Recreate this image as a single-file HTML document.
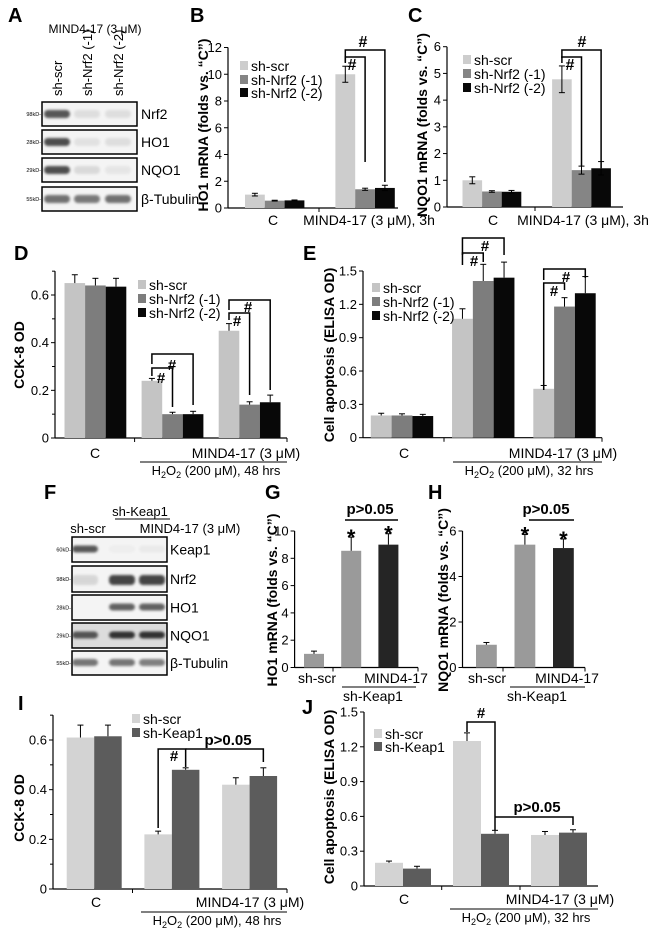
<!DOCTYPE html>
<html><head><meta charset="utf-8"><style>
html,body{margin:0;padding:0;background:#fff}
svg{display:block;font-family:"Liberation Sans",sans-serif}
</style></head><body>
<svg id="fig" width="650" height="938" viewBox="0 0 650 938" xmlns="http://www.w3.org/2000/svg">
<defs><filter id="blur" x="-20%" y="-60%" width="140%" height="220%"><feGaussianBlur stdDeviation="1.4"/></filter></defs>
<g id="root"></g>
</svg>
<script>
// ===== data arrays =====
const B_cats = ["C", "MIND4-17 (3 μM), 3h"];
const B_series = ["sh-scr", "sh-Nrf2 (-1)", "sh-Nrf2 (-2)"];
const B_scr = [1.0, 10.0];
const B_n1 = [0.55, 1.4];
const B_n2 = [0.57, 1.5];
const B_scrErr = [0.1, 0.6];
const B_n1Err = [0.03, 0.08];
const B_n2Err = [0.03, 0.2];
const B_ticks = [0, 2, 4, 6, 8, 10, 12];

const C_scr = [1.0, 4.78];
const C_n1 = [0.58, 1.38];
const C_n2 = [0.57, 1.45];
const C_scrErr = [0.13, 0.5];
const C_n1Err = [0.03, 0.15];
const C_n2Err = [0.05, 0.25];
const C_ticks = [0, 1, 2, 3, 4, 5, 6];

const D_scr = [0.65, 0.24, 0.45];
const D_n1 = [0.64, 0.10, 0.14];
const D_n2 = [0.635, 0.10, 0.15];
const D_scrErr = [0.035, 0.01, 0.03];
const D_n1Err = [0.03, 0.008, 0.012];
const D_n2Err = [0.035, 0.012, 0.03];
const D_ticks = [0, 0.2, 0.4, 0.6];
const D_tickLabels = ["0", "0.2", "0.4", "0.6"];

const E_scr = [0.2, 1.07, 0.44];
const E_n1 = [0.2, 1.41, 1.18];
const E_n2 = [0.195, 1.44, 1.30];
const E_scrErr = [0.02, 0.09, 0.03];
const E_n1Err = [0.015, 0.15, 0.08];
const E_n2Err = [0.015, 0.14, 0.15];
const E_ticks = [0, 0.3, 0.6, 0.9, 1.2, 1.5];
const E_tickLabels = ["0", "0.3", "0.6", "0.9", "1.2", "1.5"];

const G_cats = ["sh-scr", "sh-Keap1", "sh-Keap1 + MIND4-17"];
const G_vals = [1.0, 8.55, 9.0];
const G_errs = [0.2, 1.0, 0.8];
const G_ticks = [0, 2, 4, 6, 8, 10];

const H_vals = [1.0, 5.4, 5.25];
const H_errs = [0.1, 0.45, 0.4];
const H_ticks = [0, 2, 4, 6];

const I_scr = [0.61, 0.22, 0.42];
const I_keap = [0.615, 0.48, 0.455];
const I_scrErr = [0.05, 0.013, 0.028];
const I_keapErr = [0.045, 0.008, 0.033];
const I_ticks = [0, 0.2, 0.4, 0.6];
const I_tickLabels = ["0", "0.2", "0.4", "0.6"];

const J_scr = [0.2, 1.25, 0.44];
const J_keap = [0.15, 0.45, 0.46];
const J_scrErr = [0.015, 0.07, 0.03];
const J_keapErr = [0.02, 0.03, 0.025];
const J_ticks = [0, 0.3, 0.6, 0.9, 1.2, 1.5];
const J_tickLabels = ["0", "0.3", "0.6", "0.9", "1.2", "1.5"];

// ===== helpers =====
const NS = "http://www.w3.org/2000/svg";
const svg = document.getElementById("root");
function mk(tag, attrs, parent) {
  const e = document.createElementNS(NS, tag);
  for (const k in attrs) e.setAttribute(k, attrs[k]);
  (parent || svg).appendChild(e);
  return e;
}
function txt(s, x, y, size, opts, parent) {
  opts = opts || {};
  const t = mk("text", {x: x, y: y, "font-size": size, "text-anchor": opts.anchor || "start", fill: "#000"}, parent);
  if (opts.bold) t.setAttribute("font-weight", "bold");
  if (opts.rot) t.setAttribute("transform", "rotate(-90 " + x + " " + y + ")");
  t.textContent = s;
  return t;
}
function line(x1, y1, x2, y2, w, parent) {
  return mk("line", {x1: x1, y1: y1, x2: x2, y2: y2, stroke: "#000", "stroke-width": w || 1}, parent);
}
function makeY(y0, yRef, vRef) { return v => y0 - v * (y0 - yRef) / vRef; }

function yAxis(g, ax, y, ticks, labels, topV, minor) {
  const ya = line(ax, y(0), ax, y(topV), 1.2, g);
  
  
  ticks.forEach((t, i) => {
    line(ax - 4, y(t), ax, y(t), 1, g);
    const l = txt(labels ? labels[i] : String(t), ax - 6, y(t) + 4.5, 13, {anchor: "end"}, g);
    
    
  });
  if (minor) for (let i = 0; i < ticks.length - 1; i++) {
    const m = (ticks[i] + ticks[i + 1]) / 2; line(ax - 3, y(m), ax, y(m), 1, g);
  }
  if (minor && topV > ticks[ticks.length - 1]) line(ax - 3, y(topV), ax, y(topV), 1, g);
}
function xAxis(g, ax, x2, y0, tickXs) {
  const xa = line(ax, y0, x2, y0, 1.2, g);
  
  
  tickXs.forEach(tx => line(tx, y0, tx, y0 + 4, 1, g));
}
function bar(g, x, w, v, err, y, color, name, both) {
  const r = mk("rect", {x: x, y: y(v), width: w, height: y(0) - y(v), fill: color}, g);
  
  
  const cx = x + w / 2;
  const lo = both ? y(v - err) : y(v);
  line(cx, lo, cx, y(v + err), 1, g);
  line(cx - 3, y(v + err), cx + 3, y(v + err), 1, g);
  if (both) line(cx - 3, lo, cx + 3, lo, 1, g);
}
function legend(g, x, ys, labels, colors) {
  labels.forEach((s, i) => {
    const it = mk("g", {}, g);
    
    
    mk("rect", {x: x, y: ys[i] - 5, width: 8, height: 9, fill: colors[i]}, it);
    txt(s, x + 11, ys[i] + 5, 14, {}, it);
  });
}
function bracket(g, x1, x2, yTop, yL, yR, w) {
  const p = mk("path", {d: "M" + x1 + " " + yL + " V" + yTop + " H" + x2 + " V" + yR, fill: "none", stroke: "#000", "stroke-width": w || 1.5}, g);
  
  
}
function panel(name) {
  const g = mk("g", {});
  
  
  return g;
}
function plabel(g, s, x, y) {
  const t = txt(s, x, y, 20, {bold: true}, g);
  
  
}
function h2o2(g, cx, y, hrs) {
  const t = mk("text", {x: cx, y: y, "font-size": 13, "text-anchor": "middle"}, g);
  
  
  t.innerHTML = 'H<tspan font-size="9" dy="3">2</tspan><tspan dy="-3">O</tspan><tspan font-size="9" dy="3">2</tspan><tspan dy="-3"> (200 μM), ' + hrs + ' hrs</tspan>';
}

const LG = "#cdcdcd", MG = "#858585", BK = "#080808";

// ===== Panel A blot =====
(function () {
  const g = panel("panel-a-western-blot");
  plabel(g, "A", 8, 22);
  txt("MIND4-17 (3 μM)", 95, 33, 12, {anchor: "middle"}, g);
  const lanes = [57, 87, 118];
  ["sh-scr", "sh-Nrf2 (-1)", "sh-Nrf2 (-2)"].forEach((s, i) => {
    const t = txt(s, lanes[i] + 5, 96, 13, {rot: true}, g);
    
    
  });
  const rows = [[102, 126, "Nrf2", "98kD", [0.9, 0.12, 0.12]], [130, 154, "HO1", "28kD", [0.95, 0.1, 0.12]], [158, 182, "NQO1", "29kD", [0.95, 0.15, 0.08]], [187, 211, "β-Tubulin", "55kD", [0.75, 0.7, 0.75]]];
  rows.forEach(r => {
    const b = mk("g", {}, g);
    
    
    mk("rect", {x: 42, y: r[0], width: 95, height: r[1] - r[0], fill: "#f4f4f4", stroke: "#000", "stroke-width": 1.5}, b);
    const cy = (r[0] + r[1]) / 2;
    r[4].forEach((a, i) => mk("rect", {x: lanes[i] - 13, y: cy - 4, width: 26, height: 8, rx: 4, fill: "#444", opacity: a, filter: "url(#blur)"}, b));
    txt(r[3] + "-", 41, cy + 2, 5.5, {anchor: "end"}, b);
    txt(r[2], 141, cy + 5, 14, {}, b);
  });
})();

// ===== Panel B =====
(function () {
  const g = panel("panel-b-ho1-chart");
  plabel(g, "B", 190, 22);
  const y = makeY(208, 47.5, 12), ax = 228, gx0 = 245, bw = 19.8, gs = 90.4;
  yAxis(g, ax, y, B_ticks, null, 12);
  xAxis(g, ax, 398, y(0), [319]);
  [B_scr, B_n1, B_n2].forEach((vals, s) => vals.forEach((v, i) => {
    const e = [B_scrErr, B_n1Err, B_n2Err][s][i];
    bar(g, gx0 + i * gs + s * bw, bw, v, e, y, [LG, MG, BK][s], "bar-b-" + s + "-" + i, true);
  }));
  txt(B_cats[0], 273, 225, 14, {anchor: "middle"}, g);
  txt(B_cats[1], 369, 225, 14, {anchor: "middle"}, g);
  legend(g, 240, [66, 80, 93], B_series, [LG, MG, BK]);
  const yl = txt("HO1 mRNA (folds vs. “C”)", 208, 125, 14, {bold: true, rot: true, anchor: "middle"}, g);
  
  
  const c = (i, s) => gx0 + i * gs + s * bw + bw / 2;
  bracket(g, c(1, 0), c(1, 2), 50, 62, 182);
  bracket(g, c(1, 0), c(1, 1), 57, 63, 162);
  txt("#", 363, 47, 16, {bold: true, anchor: "middle"}, g);
  txt("#", 352, 70, 16, {bold: true, anchor: "middle"}, g);
})();

// ===== Panel C =====
(function () {
  const g = panel("panel-c-nqo1-chart");
  plabel(g, "C", 408, 22);
  const y = makeY(207, 46.7, 6), ax = 447, gx0 = 462.5, bw = 19.6, gs = 89.6;
  yAxis(g, ax, y, C_ticks, null, 6);
  xAxis(g, ax, 623, y(0), [535]);
  [C_scr, C_n1, C_n2].forEach((vals, s) => vals.forEach((v, i) => {
    const e = [C_scrErr, C_n1Err, C_n2Err][s][i];
    bar(g, gx0 + i * gs + s * bw, bw, v, e, y, [LG, MG, BK][s], "bar-c-" + s + "-" + i, true);
  }));
  txt(B_cats[0], 493, 225, 14, {anchor: "middle"}, g);
  txt(B_cats[1], 583, 225, 14, {anchor: "middle"}, g);
  legend(g, 463, [60, 74, 88], B_series, [LG, MG, BK]);
  const yl = txt("NQO1 mRNA (folds vs. “C”)", 427, 125, 14, {bold: true, rot: true, anchor: "middle"}, g);
  
  
  const c = (i, s) => gx0 + i * gs + s * bw + bw / 2;
  bracket(g, c(1, 0), c(1, 2), 50, 58, 168);
  bracket(g, c(1, 0), c(1, 1), 57, 63, 166);
  txt("#", 582, 47, 16, {bold: true, anchor: "middle"}, g);
  txt("#", 570, 70, 16, {bold: true, anchor: "middle"}, g);
})();

// ===== Panel D =====
(function () {
  const g = panel("panel-d-cck8-chart");
  plabel(g, "D", 14, 260);
  const y = makeY(438, 295, 0.6), ax = 55, gx0 = 64.5, bw = 20.6, gs = 77.1;
  yAxis(g, ax, y, D_ticks, D_tickLabels, 0.7, true);
  xAxis(g, ax, 287, y(0), [134.6, 287]);
  [D_scr, D_n1, D_n2].forEach((vals, s) => vals.forEach((v, i) => {
    const e = [D_scrErr, D_n1Err, D_n2Err][s][i];
    bar(g, gx0 + i * gs + s * bw, bw, v, e, y, ["#c4c4c4", "#7d7d7d", BK][s], "bar-d-" + s + "-" + i, false);
  }));
  txt("C", 95, 458, 14, {anchor: "middle"}, g);
  txt("MIND4-17 (3 μM)", 246, 458, 14, {anchor: "middle"}, g);
  line(140, 462, 287, 462, 1, g);
  h2o2(g, 216, 475, 48);
  legend(g, 138, [285, 299, 313], B_series, ["#c4c4c4", "#7d7d7d", BK]);
  const yl = txt("CCK-8 OD", 24, 355, 14, {bold: true, rot: true, anchor: "middle"}, g);
  
  
  const c = (i, s) => gx0 + i * gs + s * bw + bw / 2;
  bracket(g, c(1, 0), c(1, 2), 354, 364, 405);
  bracket(g, c(1, 0), c(1, 1), 368, 376, 407);
  txt("#", 172, 370, 15, {bold: true, anchor: "middle"}, g);
  txt("#", 161, 383, 15, {bold: true, anchor: "middle"}, g);
  bracket(g, c(2, 0), c(2, 2), 300, 310, 390);
  bracket(g, c(2, 0), c(2, 1), 313, 320, 395);
  txt("#", 248, 312, 15, {bold: true, anchor: "middle"}, g);
  txt("#", 237, 326, 15, {bold: true, anchor: "middle"}, g);
})();

// ===== Panel E =====
(function () {
  const g = panel("panel-e-apoptosis-chart");
  plabel(g, "E", 303, 260);
  const y = makeY(437.7, 271, 1.5), ax = 363, gx0 = 370.8, bw = 20.8, gs = 81.25;
  yAxis(g, ax, y, E_ticks, E_tickLabels, 1.5);
  xAxis(g, ax, 602, y(0), [444, 602]);
  [E_scr, E_n1, E_n2].forEach((vals, s) => vals.forEach((v, i) => {
    const e = [E_scrErr, E_n1Err, E_n2Err][s][i];
    bar(g, gx0 + i * gs + s * bw, bw, v, e, y, ["#c4c4c4", "#7d7d7d", BK][s], "bar-e-" + s + "-" + i, false);
  }));
  txt("C", 404, 458, 14, {anchor: "middle"}, g);
  txt("MIND4-17 (3 μM)", 563, 458, 14, {anchor: "middle"}, g);
  line(453, 462, 602, 462, 1, g);
  h2o2(g, 529, 475, 32);
  legend(g, 372, [288, 302, 316], B_series, ["#c4c4c4", "#7d7d7d", BK]);
  const yl = txt("Cell apoptosis (ELISA OD)", 334, 355, 14, {bold: true, rot: true, anchor: "middle"}, g);
  
  
  const c = (i, s) => gx0 + i * gs + s * bw + bw / 2;
  bracket(g, c(1, 0), c(1, 2), 238, 255, 255);
  bracket(g, c(1, 0), c(1, 1), 253, 265, 262);
  txt("#", 485, 251, 15, {bold: true, anchor: "middle"}, g);
  txt("#", 474, 266, 15, {bold: true, anchor: "middle"}, g);
  bracket(g, c(2, 0), c(2, 2), 269, 280, 278);
  bracket(g, c(2, 0), c(2, 1), 283, 390, 290);
  txt("#", 566, 282, 15, {bold: true, anchor: "middle"}, g);
  txt("#", 554, 296, 15, {bold: true, anchor: "middle"}, g);
})();

// ===== Panel F blot =====
(function () {
  const g = panel("panel-f-western-blot");
  plabel(g, "F", 44, 499);
  txt("sh-Keap1", 140, 516, 13, {anchor: "middle"}, g);
  line(115, 519, 170, 519, 1, g);
  txt("sh-scr", 88, 533, 13, {anchor: "middle"}, g);
  txt("MIND4-17 (3 μM)", 190, 533, 13, {anchor: "middle"}, g);
  const lanes = [85, 122, 152];
  const rows = [[537, 562, "Keap1", "60kD", [0.8, 0.03, 0.05], "#f4f4f4"], [566, 592, "Nrf2", "98kD", [0.15, 0.9, 0.9], "#f4f4f4"], [595, 620, "HO1", "28kD", [0.0, 0.75, 0.75], "#f4f4f4"], [623, 648, "NQO1", "29kD", [0.8, 1, 1], "#dcdcdc"], [651, 675, "β-Tubulin", "55kD", [0.65, 0.65, 0.6], "#f4f4f4"]];
  rows.forEach(r => {
    const b = mk("g", {}, g);
    
    
    mk("rect", {x: 72, y: r[0], width: 95, height: r[1] - r[0], fill: r[5], stroke: "#000", "stroke-width": 1.5}, b);
    const cy = (r[0] + r[1]) / 2;
    r[4].forEach((a, i) => mk("rect", {x: lanes[i] - 13, y: cy - 4, width: 26, height: r[2] === "Nrf2" ? 10 : 7, rx: 4, fill: "#333", opacity: a, filter: "url(#blur)"}, b));
    txt(r[3] + "-", 71, cy + 2, 5.5, {anchor: "end"}, b);
    txt(r[2], 170, cy + 5, 14, {}, b);
  });
})();

// ===== Panel G / H =====
function singleChart(name, letter, lx, ax, y, ticks, vals, errs, xs, bw, axEnd, tickX, yTitle, ytx, sccx, mcx, ulx1, ulx2, kcx, px1, px2, pcx) {
  const g = panel(name);
  plabel(g, letter, lx, 499);
  yAxis(g, ax, y, ticks, null, ticks[ticks.length - 1]);
  xAxis(g, ax, axEnd, y(0), [tickX, axEnd]);
  const cols = ["#9a9a9a", "#9a9a9a", "#252525"];
  vals.forEach((v, i) => bar(g, xs[0] + i * xs[1], bw, v, errs[i], y, cols[i], "bar-" + letter.toLowerCase() + "-" + i, false));
  txt("sh-scr", sccx, 683, 14, {anchor: "middle"}, g);
  txt("MIND4-17", mcx, 683, 14, {anchor: "middle"}, g);
  line(ulx1, 687, ulx2, 687, 1, g);
  txt("sh-Keap1", kcx, 701, 14, {anchor: "middle"}, g);
  const yl = txt(yTitle, ytx, 600, 14, {bold: true, rot: true, anchor: "middle"}, g);
  
  
  line(px1, 520, px2, 520, 1.5, g);
  const p = txt("p>0.05", pcx, 514, 15, {bold: true, anchor: "middle"}, g);
  
  
  [1, 2].forEach(i => txt("*", xs[0] + i * xs[1] + bw / 2, y(vals[i] + errs[i]) + 8, 22, {bold: true, anchor: "middle"}, g));
}
singleChart("panel-g-ho1-chart", "G", 265, 294.6, makeY(667.5, 531, 10), G_ticks, G_vals, G_errs, [304, 37.2], 20, 418, 333, "HO1 mRNA (folds vs. “C”)", 277, 317, 396, 342, 416, 373, 345, 398, 370);
singleChart("panel-h-nqo1-chart", "H", 428, 462.5, makeY(667.5, 531, 6), H_ticks, H_vals, H_errs, [476, 38.5], 20.8, 585, 503, "NQO1 mRNA (folds vs. “C”)", 448, 487, 567, 510, 585, 537, 529, 574, 546);

// ===== Panel I / J =====
function twoChart(name, letter, lx, ly, ax, y, ticks, tl, topV, scr, keap, se, ke, gx0, bw, gs, axEnd, tickXs, ytitle, ytx, yty, ccx, mcx, ul1, ul2, hcx, legX, legYs, minor) {
  const g = panel(name);
  plabel(g, letter, lx, ly);
  yAxis(g, ax, y, ticks, tl, topV, minor);
  xAxis(g, ax, axEnd, y(0), tickXs);
  scr.forEach((v, i) => bar(g, gx0 + i * gs, bw, v, se[i], y, "#d3d3d3", "bar-" + letter.toLowerCase() + "-scr-" + i, false));
  keap.forEach((v, i) => bar(g, gx0 + i * gs + bw, bw, v, ke[i], y, "#5c5c5c", "bar-" + letter.toLowerCase() + "-keap1-" + i, false));
  const yb = y(0) + 18;
  txt("C", ccx, yb, 14, {anchor: "middle"}, g);
  txt("MIND4-17 (3 μM)", mcx, yb, 14, {anchor: "middle"}, g);
  line(ul1, yb + 5, ul2, yb + 5, 1, g);
  h2o2(g, hcx, yb + 18, letter === "I" ? 48 : 32);
  legend(g, legX, legYs, ["sh-scr", "sh-Keap1"], ["#d3d3d3", "#5c5c5c"]);
  const yl = txt(ytitle, ytx, yty, 14, {bold: true, rot: true, anchor: "middle"}, g);
  
  
  return g;
}
(function () {
  const y = makeY(889, 740, 0.6), gx0 = 66.7, bw = 27.5, gs = 77.7;
  const g = twoChart("panel-i-cck8-chart", "I", 18, 710, 53, y, I_ticks, I_tickLabels, 0.7, I_scr, I_keap, I_scrErr, I_keapErr, gx0, bw, gs, 287, [132.5, 287], "CCK-8 OD", 24, 808, 96, 250, 141, 287, 217, 132, [719, 733], true);
  const c = (i, s) => gx0 + i * gs + s * bw + bw / 2;
  bracket(g, c(1, 0), c(1, 1), 749, 828, 767);
  bracket(g, c(1, 1), c(2, 1), 749, 749, 762);
  txt("#", 174, 761, 15, {bold: true, anchor: "middle"}, g);
  const p = txt("p>0.05", 228, 745, 15, {bold: true, anchor: "middle"}, g);
  
  
})();
(function () {
  const y = makeY(886, 712, 1.5), gx0 = 375, bw = 28, gs = 78;
  const g = twoChart("panel-j-apoptosis-chart", "J", 302, 714, 364, y, J_ticks, J_tickLabels, 1.5, J_scr, J_keap, J_scrErr, J_keapErr, gx0, bw, gs, 598, [441.7, 520], "Cell apoptosis (ELISA OD)", 334, 797, 404, 560, 450, 598, 526, 374, [734, 747], false);
  const c = (i, s) => gx0 + i * gs + s * bw + bw / 2;
  bracket(g, c(1, 0), c(1, 1), 722, 732, 830);
  bracket(g, c(1, 1), c(2, 1), 817, 817, 825);
  txt("#", 481, 718, 15, {bold: true, anchor: "middle"}, g);
  const p = txt("p>0.05", 537, 812, 15, {bold: true, anchor: "middle"}, g);
  
  
})();
</script>
</body></html>
